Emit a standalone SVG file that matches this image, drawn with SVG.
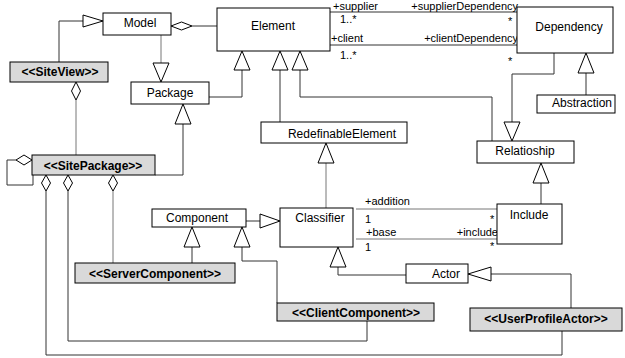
<svg xmlns="http://www.w3.org/2000/svg" width="625" height="358" viewBox="0 0 625 358">
<style>
.box{fill:#fff;stroke:#000;stroke-width:1}
.st{fill:#d9d9d9;stroke:#000;stroke-width:1}
.t{font-family:"Liberation Sans",Arial,sans-serif;font-size:12px;fill:#000}
.a{font-family:"Liberation Sans",Arial,sans-serif;font-size:11px;fill:#000}
.b{font-family:"Liberation Sans",Arial,sans-serif;font-size:12px;font-weight:bold;fill:#000}
.c{text-anchor:middle}
.ln{fill:none;stroke:#333;stroke-width:1}
.lg{fill:none;stroke:#777;stroke-width:1}
.tri{fill:#fff;stroke:#000;stroke-width:1}
.dia{fill:#fff;stroke:#000;stroke-width:1}
</style>
<rect width="625" height="358" fill="#fff"/>
<g id="connectors">
<polyline class="ln" points="83,21 59,21 59,62"/>
<polygon class="tri" points="103,21 83,15 83,27"/>
<line class="ln" x1="192" y1="26" x2="217" y2="26"/>
<polygon class="dia" points="171,26 181.5,22 192,26 181.5,30"/>
<line class="lg" x1="161" y1="35" x2="161" y2="63"/>
<polygon class="tri" points="161,82 153,63 169,63"/>
<polyline class="ln" points="209,97 242,97 242,70"/>
<polygon class="tri" points="242,51 234,70 250,70"/>
<line class="ln" x1="280" y1="70" x2="280" y2="122"/>
<polygon class="tri" points="280,51 272,70 288,70"/>
<polyline class="ln" points="300,70 300,97 492,97 492,141"/>
<polygon class="tri" points="300,51 292,70 308,70"/>
<line class="ln" x1="330" y1="12" x2="517" y2="12"/>
<line class="ln" x1="330" y1="45" x2="517" y2="45"/>
<polyline class="ln" points="554,53 554,74 512,74 512,122"/>
<polygon class="tri" points="512,141 504,122 520,122"/>
<line class="ln" x1="586" y1="73" x2="586" y2="95"/>
<polygon class="tri" points="586,53 578,73 594,73"/>
<line class="ln" x1="541" y1="183" x2="541" y2="204"/>
<polygon class="tri" points="541,163 533,183 549,183"/>
<line class="lg" x1="326" y1="163" x2="326" y2="208"/>
<polygon class="tri" points="326,143 318,163 334,163"/>
<line class="lg" x1="356" y1="209" x2="497" y2="209"/>
<line class="lg" x1="356" y1="239" x2="497" y2="239"/>
<line class="ln" x1="246" y1="221" x2="260" y2="221"/>
<polygon class="tri" points="280,221 260,214 260,228"/>
<line class="ln" x1="192" y1="247" x2="192" y2="263"/>
<polygon class="tri" points="192,227 184,247 200,247"/>
<polyline class="ln" points="242,247 242,261 277,261 277,303"/>
<polygon class="tri" points="242,227 234,247 250,247"/>
<polyline class="ln" points="338,267 338,275 406,275"/>
<polygon class="tri" points="338,247 330,267 346,267"/>
<polyline class="ln" points="491,274 571,274 571,308"/>
<polygon class="tri" points="468,274 491,267 491,281"/>
<line class="lg" x1="76" y1="100" x2="76" y2="155"/>
<polygon class="dia" points="76,82 80.5,91 76,100 71.5,91"/>
<polyline class="ln" points="155,175 183,175 183,124"/>
<polygon class="tri" points="183,104 175,124 191,124"/>
<polyline class="ln" points="16,160 7,160 7,185 33,185 33,175"/>
<polygon class="dia" points="32,160 24,155 16,160 24,165"/>
<polyline class="ln" points="46,191 46,355 562,355 562,331"/>
<polygon class="dia" points="46,175 50.5,183 46,191 41.5,183"/>
<polyline class="ln" points="68,191 68,341 367,341 367,321"/>
<polygon class="dia" points="68,175 72.5,183 68,191 63.5,183"/>
<line class="lg" x1="113" y1="191" x2="113" y2="263"/>
<polygon class="dia" points="113,175 117.5,183 113,191 108.5,183"/>
<text class="a" x="333" y="10">+supplier</text>
<text class="a" x="340" y="23">1..*</text>
<text class="a" x="518" y="10" text-anchor="end">+supplierDependency</text>
<text class="a" x="508" y="25">*</text>
<text class="a" x="331" y="42">+client</text>
<text class="a" x="340" y="59">1..*</text>
<text class="a" x="518" y="42" text-anchor="end">+clientDependency</text>
<text class="a" x="508" y="65">*</text>
<text class="a" x="365" y="205">+addition</text>
<text class="a" x="365" y="223">1</text>
<text class="a" x="490" y="223">*</text>
<text class="a" x="366" y="236">+base</text>
<text class="a" x="498" y="236" text-anchor="end">+include</text>
<text class="a" x="365" y="251">1</text>
<text class="a" x="490" y="250">*</text>
</g>
<g id="Model"><rect class="box" x="103" y="13" width="68" height="22"/><text class="t c" x="140" y="27">Model</text></g>
<g id="Element"><rect class="box" x="217" y="8" width="113" height="43"/><text class="t c" x="273" y="30">Element</text></g>
<g id="Dependency"><rect class="box" x="517" y="7" width="96" height="46"/><text class="t c" x="569" y="31">Dependency</text></g>
<g id="Abstraction"><rect class="box" x="537" y="95" width="78" height="18"/><text class="t c" x="582" y="107">Abstraction</text></g>
<g id="Package"><rect class="box" x="131" y="82" width="78" height="22"/><text class="t c" x="170" y="97">Package</text></g>
<g id="SiteView"><rect class="st" x="10" y="62" width="98" height="20"/><text class="b c" x="60" y="76">&lt;&lt;SiteView&gt;&gt;</text></g>
<g id="SitePackage"><rect class="st" x="32" y="155" width="123" height="20"/><text class="b c" x="93" y="170">&lt;&lt;SitePackage&gt;&gt;</text></g>
<g id="RedefinableElement"><rect class="box" x="261" y="122" width="146" height="21"/><text class="t c" x="342" y="138">RedefinableElement</text></g>
<g id="Relationship"><rect class="box" x="477" y="141" width="97" height="22"/><text class="t c" x="525" y="155">Relatioship</text></g>
<g id="Include"><rect class="box" x="497" y="204" width="65" height="40"/><text class="t c" x="529" y="219">Include</text></g>
<g id="Classifier"><rect class="box" x="280" y="208" width="73" height="39"/><text class="t c" x="320" y="222">Classifier</text></g>
<g id="Component"><rect class="box" x="152" y="209" width="94" height="18"/><text class="t c" x="197" y="222">Component</text></g>
<g id="ServerComponent"><rect class="st" x="75" y="263" width="160" height="20"/><text class="b c" x="155" y="278">&lt;&lt;ServerComponent&gt;&gt;</text></g>
<g id="ClientComponent"><rect class="st" x="277" y="303" width="157" height="18"/><text class="b c" x="356" y="317">&lt;&lt;ClientComponent&gt;&gt;</text></g>
<g id="Actor"><rect class="box" x="406" y="264" width="62" height="19"/><text class="t c" x="446" y="278">Actor</text></g>
<g id="UserProfileActor"><rect class="st" x="470" y="308" width="152" height="23"/><text class="b c" x="546" y="323">&lt;&lt;UserProfileActor&gt;&gt;</text></g>
</svg>
